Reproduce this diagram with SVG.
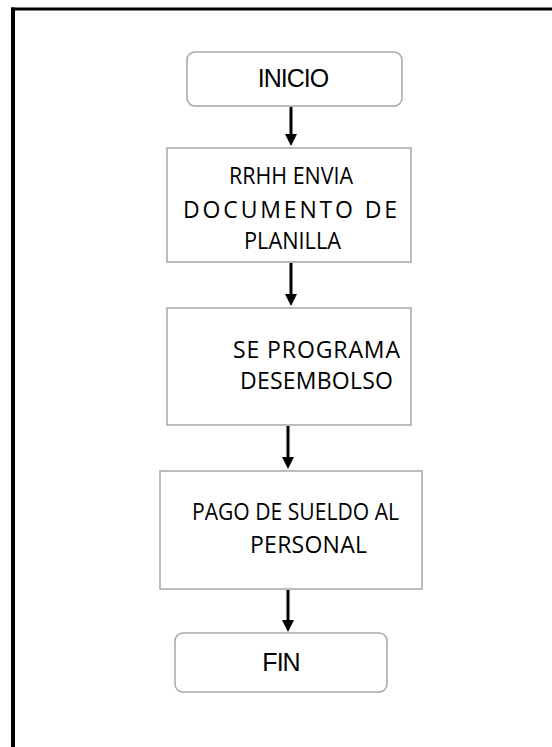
<svg xmlns="http://www.w3.org/2000/svg" width="552" height="747" viewBox="0 0 552 747">
<defs>
<marker id="ah" markerWidth="4" markerHeight="4" refX="2" refY="2" orient="auto" markerUnits="strokeWidth"><path d="M0,0 L4,2 L0,4 Z" fill="#000"/></marker>
<style>
.box{fill:#fff;stroke:#a6a6a6;stroke-width:1.5}
.t1{font-family:"Liberation Sans",Arial,sans-serif;font-size:25px;fill:#000;text-anchor:middle}
.t2{font-family:"Open Sans","Noto Sans",sans-serif;font-size:23px;fill:#000}
.c{stroke:#000;stroke-width:3;fill:none;marker-end:url(#ah)}
</style>
</defs>
<rect width="552" height="747" fill="#fff"/>
<g id="frame">
<line x1="11" y1="9" x2="552" y2="9" stroke="#000" stroke-width="3"/>
<line x1="13" y1="7.5" x2="13" y2="747" stroke="#000" stroke-width="4"/>
</g>
<g id="inicio">
<rect class="box" x="187" y="52" width="215" height="54" rx="8"/>
<text class="t1" x="293" y="87" letter-spacing="-1">INICIO</text>
</g>
<g id="rrhh">
<rect class="box" x="167" y="148" width="244" height="114"/>
<text class="t2" x="229" y="184" textLength="124" lengthAdjust="spacingAndGlyphs">RRHH ENVIA</text>
<text class="t2" x="183" y="218" textLength="214" lengthAdjust="spacing">DOCUMENTO DE</text>
<text class="t2" x="244" y="249" textLength="97" lengthAdjust="spacingAndGlyphs">PLANILLA</text>
</g>
<g id="programa">
<rect class="box" x="167" y="308" width="244" height="117"/>
<text class="t2" x="233" y="358" textLength="167" lengthAdjust="spacing">SE PROGRAMA</text>
<text class="t2" x="240" y="389" textLength="153" lengthAdjust="spacing">DESEMBOLSO</text>
</g>
<g id="pago">
<rect class="box" x="160" y="471" width="262" height="118"/>
<text class="t2" x="192" y="520" textLength="207" lengthAdjust="spacingAndGlyphs">PAGO DE SUELDO AL</text>
<text class="t2" x="250" y="553" textLength="117" lengthAdjust="spacing">PERSONAL</text>
</g>
<g id="fin">
<rect class="box" x="175" y="633" width="212" height="59" rx="8"/>
<text class="t1" x="281" y="671" letter-spacing="-1">FIN</text>
</g>
<g id="connectors">
<line class="c" x1="291" y1="107" x2="291" y2="140"/>
<line class="c" x1="291" y1="263" x2="291" y2="300"/>
<line class="c" x1="288" y1="426" x2="288" y2="463"/>
<line class="c" x1="288" y1="590" x2="288" y2="626"/>
</g>
</svg>
